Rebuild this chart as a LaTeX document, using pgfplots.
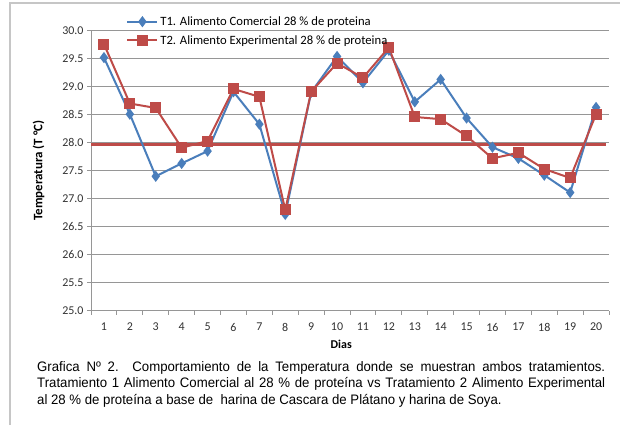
\documentclass[border=0pt]{standalone}
\usepackage{fontspec}
\setmainfont{Carlito}
\newfontfamily\capfont[FakeStretch=0.96]{Liberation Sans}
\usepackage{pgfplots}
\pgfplotsset{compat=1.18}
\definecolor{tblue}{RGB}{74,126,187}
\definecolor{tred}{RGB}{190,75,72}
\definecolor{gridgray}{RGB}{150,150,150}
\begin{document}
\begin{tikzpicture}[x=1bp,y=1bp]
\useasboundingbox (0,0) rectangle (620,425);
\fill[white] (0,0) rectangle (620,425);
\draw[gray!45, line width=1.2bp] (10,0) -- (10,422) -- (620,422);
\begin{axis}[
  at={(91bp,114.3bp)}, anchor=south west,
  scale only axis, width=518bp, height=280bp,
  xmin=0.5, xmax=20.5, ymin=25, ymax=30,
  xtick={1,2,...,20},
  minor xtick={0.5,1.5,...,20.5},
  ytick={25,25.5,...,30},
  yticklabel style={/pgf/number format/.cd, fixed, fixed zerofill, precision=1},
  xticklabel style={yshift=-5bp},
  /pgf/number format/assume math mode=true,
  tick label style={font=\fontsize{12}{14}\selectfont, text=black!80},
  axis x line*=bottom, axis y line*=left,
  axis line style={gridgray, line width=1bp},
  tick align=outside,
  major x tick style={draw=none},
  minor x tick style={gridgray, line width=1bp},
  minor tick length=4bp,
  y tick style={gridgray, line width=1bp},
  major tick length=4bp,
  ymajorgrids, grid style={gridgray, line width=1.2bp},
  xlabel={\textbf{Dias}}, xlabel style={font=\fontsize{12}{14}\selectfont, at={(axis description cs:0.483,0)}, anchor=north, yshift=-26bp},
  ylabel={\textbf{Temperatura (T °C)}}, ylabel style={font=\fontsize{13}{15}\selectfont, yshift=11bp},
  legend style={draw=none, fill=none, at={(axis description cs:0.066,1.062)}, anchor=north west,
    font=\fontsize{12.7}{14}\selectfont, row sep=4.5bp, inner sep=1bp},
  legend cell align=left,
  legend image code/.code={\draw[mark repeat=2,mark phase=2] plot coordinates {(0bp,0bp) (15bp,0bp) (30bp,0bp)};},
  clip=false,
]
\addplot[tred, line width=3.4bp, forget plot] coordinates {(0.5,27.97) (20.4,27.97)};
\addplot[tblue, line width=2bp, mark=diamond*, mark size=4bp, mark options={solid, fill=tblue}] coordinates {
(1,29.52) (2,28.51) (3,27.40) (4,27.63) (5,27.85) (6,28.91) (7,28.33) (8,26.72) (9,28.90) (10,29.54)
(11,29.07) (12,29.65) (13,28.73) (14,29.13) (15,28.44) (16,27.92) (17,27.72) (18,27.42) (19,27.11) (20,28.63)};
\addlegendentry{T1. Alimento Comercial 28 \% de proteina}
\addplot[tred, line width=2bp, mark=square*, mark size=4.5bp, mark options={solid, fill=tred}] coordinates {
(1,29.76) (2,28.70) (3,28.62) (4,27.91) (5,28.03) (6,28.96) (7,28.82) (8,26.80) (9,28.91) (10,29.42)
(11,29.16) (12,29.70) (13,28.46) (14,28.42) (15,28.12) (16,27.72) (17,27.82) (18,27.53) (19,27.37) (20,28.51)};
\addlegendentry{T2. Alimento Experimental 28 \% de proteina}
\end{axis}
\node[anchor=north west, text width=568bp, align=justify, inner sep=0pt, font=\capfont\fontsize{13.8}{16.5}\selectfont] at (37,64) {Grafica Nº 2.\ \ Comportamiento de la Temperatura donde se muestran ambos tratamientos.\linebreak Tratamiento 1 Alimento Comercial al 28 \% de proteína vs Tratamiento 2 Alimento Experimental\linebreak al 28 \% de proteína a base de\ \ harina de Cascara de Plátano y harina de Soya.};
\end{tikzpicture}
\end{document}
